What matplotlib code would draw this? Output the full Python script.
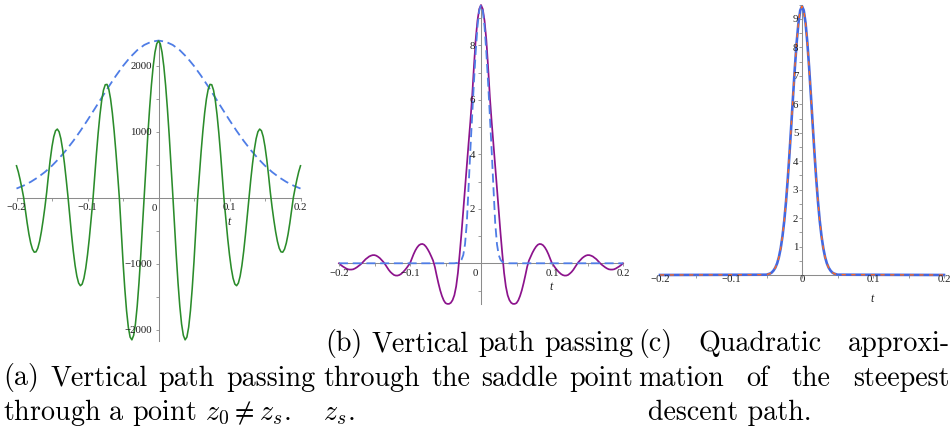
import matplotlib
matplotlib.use("Agg")
import matplotlib.pyplot as plt
import numpy as np

plt.rcParams['mathtext.fontset'] = 'cm'

W, H = 952, 434

# (a) vertical path through z0 != zs : integrand (green) and its envelope (dashed)
t_a = np.linspace(-0.2, 0.2, 161)
green_a = [488, 398, 283, 152, 11, -187, -378, -548, -683, -776, -821,
           -816, -760, -657, -513, -337, -140, 85, 344, 581, 779,
           929, 1019, 1044, 1003, 898, 735, 526, 282, 21, -271,
           -553, -807, -1021, -1184, -1289, -1329, -1304, -1215, -1065, -862,
           -617, -340, -47, 306, 659, 981, 1258, 1479, 1634, 1716,
           1721, 1648, 1501, 1288, 1016, 698, 350, -20, -503, -961,
           -1369, -1707, -1957, -2107, -2149, -2081, -1909, -1639, -1286, -868,
           -405, 73, 528, 962, 1360, 1709, 1994, 2206, 2336,
           2380,
           2336, 2206, 1994, 1709, 1360, 962, 528, 73, -405,
           -868, -1286, -1639, -1909, -2081, -2149, -2107, -1957, -1707, -1369,
           -961, -503, -20, 350, 698, 1016, 1288, 1501, 1648, 1721,
           1716, 1634, 1479, 1258, 981, 659, 306, -47, -340, -617,
           -862, -1065, -1215, -1304, -1329, -1289, -1184, -1021, -807, -553,
           -271, 21, 282, 526, 735, 898, 1003, 1044, 1019, 929,
           779, 581, 344, 85, -140, -337, -513, -657, -760, -816,
           -821, -776, -683, -548, -378, -187, 11, 152, 283, 398, 488]
t_env_a = np.linspace(-0.2, 0.2, 41)
env_a = [143, 188, 244, 312, 393, 489, 600, 726, 865, 1017, 1179, 1348, 1520,
         1689, 1851, 2000, 2131, 2239, 2319, 2368, 2385, 2368, 2319, 2239,
         2131, 2000, 1851, 1689, 1520, 1348, 1179, 1017, 865, 726, 600, 489,
         393, 312, 244, 188, 143]

# (b) vertical path through the saddle point
t_b = np.linspace(-0.2, 0.2, 161)
purple_b = [0.0, -0.06, -0.11, -0.15, -0.19, -0.22, -0.23, -0.23, -0.22, -0.19, -0.15,
            -0.10, -0.05, 0.01, 0.08, 0.15, 0.20, 0.25, 0.28, 0.30, 0.30,
            0.28, 0.24, 0.19, 0.12, 0.05, -0.04, -0.14, -0.24, -0.32, -0.38,
            -0.43, -0.45, -0.45, -0.43, -0.39, -0.33, -0.26, -0.18, -0.09, 0.0,
            0.17, 0.33, 0.47, 0.58, 0.66, 0.70, 0.71, 0.68, 0.61, 0.51,
            0.39, 0.25, 0.10, -0.13, -0.44, -0.73, -0.99, -1.20, -1.36, -1.46,
            -1.49, -1.49, -1.45, -1.35, -1.17, -0.85, -0.35, 0.35, 1.1, 1.9,
            2.75, 3.6, 4.4, 5.2, 6.1, 7.2, 8.2, 8.90, 9.33,
            9.48,
            9.33, 8.90, 8.2, 7.2, 6.1, 5.2, 4.4, 3.6, 2.75,
            1.9, 1.1, 0.35, -0.35, -0.85, -1.17, -1.35, -1.45, -1.49, -1.49,
            -1.46, -1.36, -1.20, -0.99, -0.73, -0.44, -0.13, 0.10, 0.25, 0.39,
            0.51, 0.61, 0.68, 0.71, 0.70, 0.66, 0.58, 0.47, 0.33, 0.17,
            0.0, -0.09, -0.18, -0.26, -0.33, -0.39, -0.43, -0.45, -0.45, -0.43,
            -0.38, -0.32, -0.24, -0.14, -0.04, 0.05, 0.12, 0.19, 0.24, 0.28,
            0.30, 0.30, 0.28, 0.25, 0.20, 0.15, 0.08, 0.01, -0.05, -0.10,
            -0.15, -0.19, -0.22, -0.23, -0.23, -0.22, -0.19, -0.15, -0.11, -0.06, 0.0]
t_dash_b = np.concatenate([[-0.2], np.linspace(-0.04, 0.04, 33), [0.2]])
dash_b = [0, 0.0, 0.0, 0.01, 0.02, 0.05, 0.13, 0.30, 0.70, 1.48, 2.79, 4.15,
          5.40, 6.63, 7.75, 8.68, 9.27, 9.48, 9.27, 8.68, 7.75, 6.63, 5.40,
          4.15, 2.79, 1.48, 0.70, 0.30, 0.13, 0.05, 0.02, 0.01, 0.0, 0.0, 0]

# (c) quadratic approximation of the steepest descent path
t_c = np.concatenate([[-0.2], np.linspace(-0.05, 0.05, 41), [0.2]])
exact_c = [0, 0.01, 0.03, 0.05, 0.09, 0.16, 0.26, 0.41, 0.63, 0.94, 1.36,
           1.90, 2.58, 3.39, 4.31, 5.31, 6.33, 7.31, 8.18, 8.86, 9.30, 9.45,
           9.30, 8.86, 8.18, 7.31, 6.33, 5.31, 4.31, 3.39, 2.58, 1.90, 1.36,
           0.94, 0.63, 0.41, 0.26, 0.16, 0.09, 0.05, 0.03, 0.01, 0]
quad_c = exact_c  # the two curves coincide at this scale

x_major = [-0.2, -0.1, 0.1, 0.2]
x_major_labels = ['\u22120.2', '\u22120.1', '0.1', '0.2']
x_minor = [-0.15, -0.05, 0.05, 0.15]

AXIS_GREY = '#8c8c8c'
LABEL_COL = '#1e1e1e'
TICK_FONT = dict(family='Liberation Serif', size=7.8)


def px(v):
    # pixels -> points
    return v * 72.0 / 100.0


def maple_axes(rect, xlim, ylim, yt, ytl, ymin, xpad, ypad, xt=x_major, xtl=x_major_labels):
    ax = fig.add_axes(rect)
    ax.set_facecolor('none')
    ax.set_xlim(*xlim)
    ax.set_ylim(*ylim)
    for s in ('top', 'right'):
        ax.spines[s].set_visible(False)
    for s in ('left', 'bottom'):
        ax.spines[s].set_position(('data', 0))
        ax.spines[s].set_color(AXIS_GREY)
        ax.spines[s].set_linewidth(0.75)
    ax.set_xticks(xt, labels=xtl)
    ax.set_xticks(x_minor, minor=True)
    ax.set_yticks(yt, labels=ytl)
    ax.set_yticks(ymin, minor=True)
    ax.tick_params(which='both', direction='out', length=2, width=0.6,
                   color=AXIS_GREY, labelcolor=LABEL_COL)
    ax.tick_params(axis='x', pad=xpad)
    ax.tick_params(axis='y', pad=ypad)
    for lab in ax.get_xticklabels() + ax.get_yticklabels():
        lab.set_fontfamily(TICK_FONT['family'])
        lab.set_fontsize(TICK_FONT['size'])
    # Maple draws the tick labels over the curves
    ax.xaxis.set_zorder(5)
    ax.yaxis.set_zorder(5)
    ax.annotate('t', xy=(0.099, 0), xytext=(0, -px(24)), textcoords='offset points',
                ha='center', va='center', fontsize=8.5, family='Liberation Serif',
                style='italic', color=LABEL_COL)
    return ax


fig = plt.figure(figsize=(W / 100, H / 100), dpi=100)
fig.patch.set_facecolor('white')

# ---- (a)
ax_a = maple_axes([16.5 / W, 0.2153, 284 / W, 0.6935], (-0.2, 0.2), (-2160, 2400),
                  [-2000, -1000, 1000, 2000], ['\u22122000', '\u22121000', '1000', '2000'],
                  [-1500, -500, 500, 1500], xpad=1.3, ypad=2.7)
ax_a.plot(t_env_a, env_a, color='#4f7de6', lw=1.3, ls=(0, (5, 2.6)), zorder=3, clip_on=False)
ax_a.plot(t_a, green_a, color='#2b8c2b', lw=1.15, zorder=4, clip_on=False)
ax_a.annotate('0', xy=(0, 0), xytext=(px(-4.5), px(-10.3)), textcoords='offset points',
              ha='center', va='center', color=LABEL_COL, **TICK_FONT)

# ---- (b)
ax_b = maple_axes([339 / W, 0.2998, 284 / W, 0.6887], (-0.2, 0.2), (-1.49, 9.48),
                  [2, 4, 6, 8], ['2', '4', '6', '8'], [-1, 1, 3, 5, 7, 9],
                  xpad=2.3, ypad=2.1)
ax_b.plot(t_b, purple_b, color='#8c138c', lw=1.25, zorder=3, clip_on=False)
ax_b.plot(t_dash_b, dash_b, color='#4f7de6', lw=1.3, ls=(0, (5, 2.6)), zorder=4, clip_on=False)
ax_b.annotate('0', xy=(0, 0), xytext=(px(-6), px(-10)), textcoords='offset points',
              ha='center', va='center', color=LABEL_COL, **TICK_FONT)

# ---- (c)
ax_c = maple_axes([660 / W, 0.3664, 284 / W, 0.6226], (-0.2, 0.2), (0, 9.5),
                  list(range(1, 10)), [str(k) for k in range(1, 10)],
                  [k + 0.5 for k in range(0, 10)], xpad=-2.0, ypad=0.6,
                  xt=[-0.2, -0.1, 0, 0.1, 0.2],
                  xtl=['\u22120.2', '\u22120.1', '0', '0.1', '0.2'])
ax_c.plot(t_c, exact_c, color='#4468e0', lw=1.9, zorder=3, clip_on=False)
ax_c.plot(t_c, quad_c, color='#ff6a1f', lw=1.0, ls=(0, (3, 4)), zorder=4, clip_on=False)

# ---- captions (LaTeX-like, justified columns)
CAP = dict(family='cmr10', size=20.2, color='black', va='baseline', ha='left')
renderer = fig.canvas.get_renderer()


def justified(words, x0, x1, y):
    texts = [fig.text(0, 1 - y / H, w, **CAP) for w in words]
    widths = [t.get_window_extent(renderer).width for t in texts]
    gap = (x1 - x0 - sum(widths)) / (len(words) - 1)
    x = x0
    for t, w in zip(texts, widths):
        t.set_x(x / W)
        x += w + gap


def plain(s, x0, y):
    fig.text(x0 / W, 1 - y / H, s, **CAP)


base = [351, 385.5, 420]
col_a, col_b, col_c = (3, 315), (323, 633), (638, 950)

justified(['(a)', 'Vertical', 'path', 'passing'], *col_a, base[1])
plain(r'through a point $z_0 \neq z_s$.', col_a[0], base[2])

justified(['(b)', 'Vertical', 'path', 'passing'], 325, col_b[1], base[0])
justified(['through', 'the', 'saddle', 'point'], *col_b, base[1])
plain(r'$z_s$.', col_b[0], base[2])

justified(['(c)', 'Quadratic', 'approxi-'], *col_c, base[0])
justified(['mation', 'of', 'the', 'steepest'], *col_c, base[1])
plain('descent path.', 648, base[2])

fig.savefig('out.png', dpi=100, facecolor='white')
